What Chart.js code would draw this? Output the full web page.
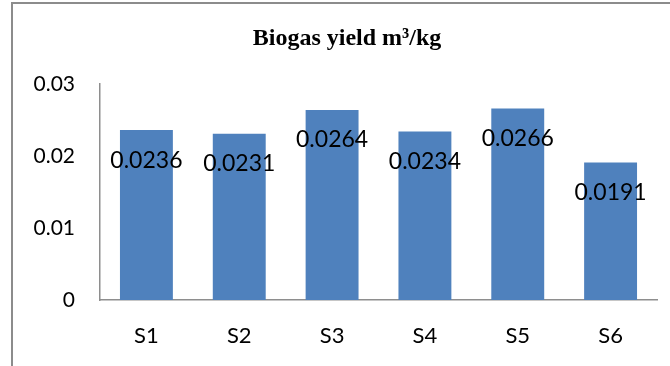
<!DOCTYPE html>
<html>
<head>
<meta charset="utf-8">
<script src="https://cdn.jsdelivr.net/npm/chart.js@4/dist/chart.umd.min.js"></script>
<style>
  html, body { margin: 0; padding: 0; background: #fff; }
  #wrap { position: relative; width: 670px; height: 366px; overflow: hidden; }
  #frame {
    position: absolute; left: 11px; top: 2px; width: 700px; height: 400px;
    border-top: 2px solid #8c8c8c; border-left: 2px solid #8c8c8c;
    box-sizing: border-box; pointer-events: none;
  }
  canvas { position: absolute; left: 0; top: 0; }
</style>
</head>
<body>
<div id="wrap">
  <canvas id="chart" width="670" height="366"></canvas>
  <div id="frame"></div>
</div>
<script>
// Samples and their biogas yield (m³/kg)
const categories = ['S1', 'S2', 'S3', 'S4', 'S5', 'S6'];
const yieldValues = [0.0236, 0.0231, 0.0264, 0.0234, 0.0266, 0.0191];
const yTickLabels = ['0', '0.01', '0.02', '0.03'];
const chartTitle = 'Biogas yield m³/kg';

// Heading above the plot, centred on the chart frame
const heading = {
  id: 'heading',
  afterDraw(chart) {
    const ctx = chart.ctx;
    ctx.save();
    ctx.font = 'bold 24px "Liberation Serif"';
    ctx.fillStyle = '#000';
    ctx.textAlign = 'center';
    ctx.textBaseline = 'alphabetic';
    ctx.fillText(chartTitle, 347, 45);
    ctx.restore();
  }
};

// Writes each bar's value just inside its top end
const valueLabels = {
  id: 'valueLabels',
  afterDatasetsDraw(chart) {
    const ctx = chart.ctx;
    const meta = chart.getDatasetMeta(0);
    ctx.save();
    ctx.font = '23px Lato';
    ctx.fillStyle = '#000';
    ctx.textAlign = 'center';
    ctx.textBaseline = 'middle';
    meta.data.forEach((bar, i) => {
      const v = chart.data.datasets[0].data[i];
      ctx.fillText(String(v), bar.x, bar.y + 30);
    });
    ctx.restore();
  }
};

new Chart(document.getElementById('chart'), {
  type: 'bar',
  data: {
    labels: categories,
    datasets: [{
      data: yieldValues,
      backgroundColor: '#4f81bd',
      borderWidth: 0,
      categoryPercentage: 1,
      barPercentage: 0.57
    }]
  },
  options: {
    responsive: false,
    animation: false,
    layout: { padding: { left: 10, right: 13, top: 84, bottom: 0 } },
    plugins: {
      legend: { display: false },
      tooltip: { enabled: false },
      title: { display: false }
    },
    scales: {
      x: {
        grid: { display: false, drawTicks: false },
        border: { display: true, color: '#8e8e8e', width: 1.5 },
        ticks: { color: '#000', font: { family: 'Lato', size: 22 }, padding: 23 },
        afterFit(scale) { scale.height = 66; }
      },
      y: {
        min: 0,
        max: 0.03,
        grid: { display: false, drawTicks: false },
        border: { display: true, color: '#8e8e8e', width: 1.5 },
        ticks: {
          stepSize: 0.01,
          color: '#000',
          font: { family: 'Lato', size: 21 },
          padding: 25,
          callback: (v, i) => yTickLabels[i]
        },
        afterFit(scale) { scale.width = 90; }
      }
    }
  },
  plugins: [valueLabels, heading]
});
</script>
</body>
</html>
